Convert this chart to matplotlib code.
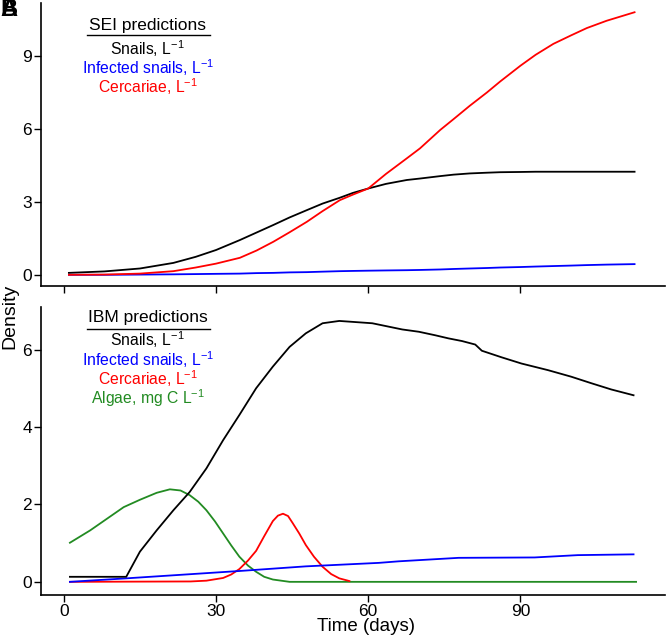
import numpy as np
import matplotlib
matplotlib.use("Agg")
import matplotlib.pyplot as plt

plt.rcParams["font.family"] = ["Liberation Sans", "DejaVu Sans"]
plt.rcParams["mathtext.fontset"] = "custom"
plt.rcParams["mathtext.rm"] = "Liberation Sans"
plt.rcParams["mathtext.it"] = "Liberation Sans:italic"

# SEI model (top panel)
sei_days = [1, 8, 15, 21.6, 26, 30, 34.7, 38, 41.3, 44.5, 47.9, 51, 54.4, 57, 60,
            63.5, 67.6, 70.2, 74.2, 76.8, 80, 83.4, 86, 90, 93, 96.5, 100, 103.1, 107, 112.5]
sei_snails = [0.08, 0.14, 0.26, 0.49, 0.74, 1.02, 1.43, 1.74, 2.05, 2.36, 2.66, 2.93, 3.17, 3.37, 3.55,
              3.74, 3.9, 3.96, 4.06, 4.12, 4.17, 4.2, 4.22, 4.23, 4.24, 4.24, 4.24, 4.24, 4.24, 4.24]
sei_infected = [0.0, 0.0, 0.01, 0.02, 0.03, 0.04, 0.05, 0.07, 0.08, 0.1, 0.11, 0.13, 0.15, 0.16, 0.17,
                0.18, 0.19, 0.2, 0.22, 0.24, 0.26, 0.28, 0.3, 0.32, 0.34, 0.36, 0.38, 0.4, 0.42, 0.44]
sei_cercariae = [0.0, 0.01, 0.05, 0.15, 0.3, 0.46, 0.7, 1.0, 1.36, 1.75, 2.18, 2.62, 3.07, 3.3, 3.55,
                 4.15, 4.79, 5.2, 5.96, 6.4, 6.95, 7.5, 7.95, 8.6, 9.05, 9.5, 9.85, 10.15, 10.45, 10.8]

# IBM model (bottom panel)
ibm_snail_days = [1.2, 12.3, 15, 18.3, 21.6, 24.8, 28.1, 31.4, 34.6, 37.9, 41.2, 44.5, 47.7, 51, 54.3,
                  60.8, 66.7, 70, 73.2, 75.8, 78.5, 81.1, 82.4, 86.3, 90.2, 95.4, 100, 104, 107.9, 112.3]
ibm_snails = [0.13, 0.13, 0.78, 1.33, 1.85, 2.32, 2.93, 3.66, 4.31, 5.0, 5.56, 6.07, 6.42, 6.68, 6.74,
              6.68, 6.52, 6.46, 6.37, 6.29, 6.22, 6.13, 5.97, 5.8, 5.64, 5.47, 5.3, 5.13, 4.97, 4.82]

ibm_inf_days = [1.2, 12.3, 34.6, 47.7, 62.1, 66, 77.8, 92.8, 101.3, 112.3]
ibm_infected = [0.0, 0.09, 0.28, 0.4, 0.49, 0.53, 0.62, 0.63, 0.69, 0.71]

ibm_cerc_days = [1.2, 25, 28.1, 31.4, 33, 34.6, 36.3, 37.9, 39.5, 41.2, 42.2, 43.2, 44.2, 45.1,
                 46.4, 47.7, 49.3, 51, 52.7, 54.3, 56.3]
ibm_cercariae = [0.0, 0.01, 0.03, 0.1, 0.19, 0.33, 0.55, 0.8, 1.18, 1.57, 1.71, 1.76, 1.7, 1.52,
                 1.25, 0.95, 0.65, 0.39, 0.2, 0.09, 0.02]

ibm_algae_days = [1.2, 5.2, 8.5, 11.8, 15, 18.3, 20.9, 23, 24.8, 26.5, 28.1, 29.8, 31.4, 33,
                  34.6, 36.3, 37.9, 39.5, 41.2, 44.5, 50, 112.8]
ibm_algae = [1.01, 1.33, 1.63, 1.93, 2.12, 2.3, 2.39, 2.36, 2.24, 2.07, 1.85, 1.56, 1.25, 0.94,
             0.65, 0.42, 0.26, 0.13, 0.06, 0.0, 0.0, 0.0]

W, H = 667, 637
fig = plt.figure(figsize=(W / 100, H / 100), dpi=100)


def px_axes(left, top, right, bottom):
    return fig.add_axes([left / W, 1 - bottom / H, (right - left) / W, (bottom - top) / H])


ax1 = px_axes(41, 3, 665, 286)
ax2 = px_axes(41, 307, 665, 595)

lw = 1.3
ax1.plot(sei_days, sei_snails, color="black", lw=lw)
ax1.plot(sei_days, sei_infected, color="blue", lw=lw)
ax1.plot(sei_days, sei_cercariae, color="red", lw=lw)

ax2.plot(ibm_algae_days, ibm_algae, color="forestgreen", lw=lw)
ax2.plot(ibm_cerc_days, ibm_cercariae, color="red", lw=lw)
ax2.plot(ibm_inf_days, ibm_infected, color="blue", lw=lw)
ax2.plot(ibm_snail_days, ibm_snails, color="black", lw=lw)

for ax in (ax1, ax2):
    ax.set_xlim(-4.5, 118.5)
    ax.set_xticks([0, 30, 60, 90])
    for s in ("top", "right"):
        ax.spines[s].set_visible(False)
    ax.spines["left"].set_linewidth(1.2)
    ax.spines["bottom"].set_linewidth(1.2)
    ax.tick_params(direction="out", length=5, width=1, labelsize=12.5, pad=1.5)

ax1.set_ylim(-0.46, 11.18)
ax1.set_yticks([0, 3, 6, 9])
ax1.tick_params(axis="x", labelbottom=False)

ax2.set_ylim(-0.34, 7.1)
ax2.set_yticks([0, 2, 4, 6])


def legend_block(ax, title, items, ys, line_y):
    xc = 0.171
    ax.text(xc, ys[0], title, transform=ax.transAxes, ha="center", va="center", fontsize=12.5)
    ax.plot([0.074, 0.271], [line_y, line_y], transform=ax.transAxes, color="black", lw=1)
    for (txt, col), y in zip(items, ys[1:]):
        ax.text(xc, y, txt, transform=ax.transAxes, ha="center", va="center",
                fontsize=11.3, color=col)


unit = r"L$^{-1}$"
legend_block(ax1, "SEI predictions",
             [("Snails, " + unit, "black"),
              ("Infected snails, " + unit, "blue"),
              ("Cercariae, " + unit, "red")],
             [0.919, 0.837, 0.770, 0.703], 0.887)
legend_block(ax2, "IBM predictions",
             [("Snails, " + unit, "black"),
              ("Infected snails, " + unit, "blue"),
              ("Cercariae, " + unit, "red"),
              ("Algae, mg C " + unit, "forestgreen")],
             [0.962, 0.885, 0.817, 0.752, 0.683], 0.924)

fig.text(10 / W, 1 - 316 / H, "Density", rotation=90, ha="center", va="center", fontsize=14)
fig.text(366 / W, 1 - 618 / H, "Time (days)", ha="center", va="top", fontsize=13.5)

fig.text(0.0, 1 - 10 / H, "A", ha="left", va="center", fontsize=17, fontweight="bold")
fig.text(0.0, 1 - 10 / H, "B", ha="left", va="center", fontsize=17, fontweight="bold")

fig.savefig("out.png", dpi=100)
